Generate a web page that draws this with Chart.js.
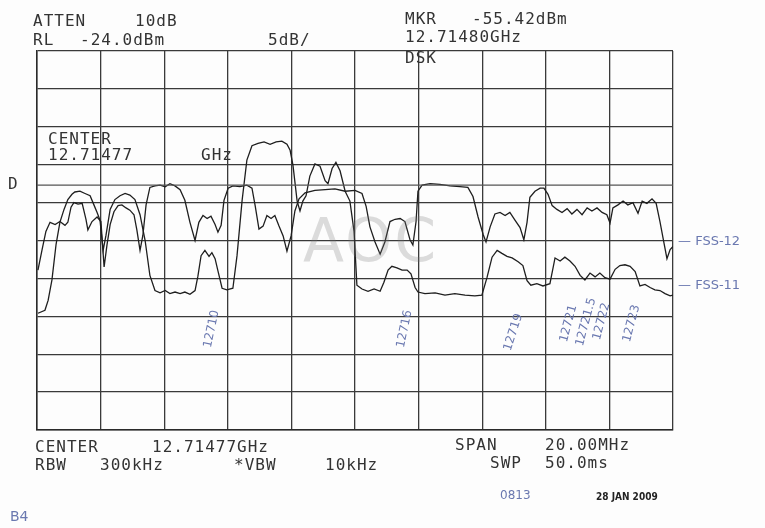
<!DOCTYPE html>
<html>
<head>
<meta charset="utf-8">
<script src="https://cdn.jsdelivr.net/npm/chart.js@4/dist/chart.umd.min.js"></script>
<style>
  html, body { margin:0; padding:0; background:#fff; }
  #wrap { position:relative; width:765px; height:528px; overflow:hidden; background:#fdfdfd; }
  canvas { position:absolute; left:0; top:0; }
  .t { position:absolute; font-family:"DejaVu Sans Mono", "Liberation Mono", monospace; font-size:16px; letter-spacing:1px; color:#333; white-space:pre; line-height:16px; }
  .h { position:absolute; font-family:"DejaVu Sans", sans-serif; font-size:12px; color:#6a78b0; white-space:pre; transform-origin:left top; }
  .wm { position:absolute; font-family:"DejaVu Sans", sans-serif; font-size:60px; color:rgba(120,120,120,0.25); letter-spacing:2px; }
</style>
</head>
<body>
<div id="wrap">
  <canvas id="c" width="765" height="528"></canvas>
  <div class="wm" style="left:303px; top:205px;">AOC</div>

  <div class="t" style="left:33px; top:13px;">ATTEN</div>
  <div class="t" style="left:135px; top:13px;">10dB</div>
  <div class="t" style="left:33px; top:32px;">RL</div>
  <div class="t" style="left:80px; top:32px;">-24.0dBm</div>
  <div class="t" style="left:268px; top:32px;">5dB/</div>
  <div class="t" style="left:405px; top:11px;">MKR</div>
  <div class="t" style="left:472px; top:11px;">-55.42dBm</div>
  <div class="t" style="left:405px; top:29px;">12.71480GHz</div>
  <div class="t" style="left:405px; top:50px;">DSK</div>

  <div class="t" style="left:48px; top:131px;">CENTER</div>
  <div class="t" style="left:48px; top:147px;">12.71477</div>
  <div class="t" style="left:201px; top:147px;">GHz</div>
  <div class="t" style="left:8px; top:176px;">D</div>

  <div class="t" style="left:35px; top:439px;">CENTER</div>
  <div class="t" style="left:152px; top:439px;">12.71477GHz</div>
  <div class="t" style="left:455px; top:437px;">SPAN</div>
  <div class="t" style="left:545px; top:437px;">20.00MHz</div>
  <div class="t" style="left:35px; top:457px;">RBW</div>
  <div class="t" style="left:100px; top:457px;">300kHz</div>
  <div class="t" style="left:234px; top:457px;">*VBW</div>
  <div class="t" style="left:325px; top:457px;">10kHz</div>
  <div class="t" style="left:490px; top:455px;">SWP</div>
  <div class="t" style="left:545px; top:455px;">50.0ms</div>

  <div class="h" style="left:500px; top:488px; font-size:12px;">0813</div>
  <div class="t" style="left:596px; top:489px; font-family:'DejaVu Sans Condensed','DejaVu Sans',sans-serif; font-weight:bold; font-size:10px; letter-spacing:0; color:#222;">28 JAN 2009</div>
  <div class="h" style="left:10px; top:508px; font-size:14px;">B4</div>

  <div class="h" style="left:678px; top:233px; font-size:13px;">— FSS-12</div>
  <div class="h" style="left:678px; top:277px; font-size:13px;">— FSS-11</div>

  <div class="h" style="left:200px; top:346px; transform:rotate(-78deg);">12710</div>
  <div class="h" style="left:393px; top:346px; transform:rotate(-78deg);">12716</div>
  <div class="h" style="left:500px; top:348px; transform:rotate(-72deg);">12719</div>
  <div class="h" style="left:556px; top:340px; transform:rotate(-75deg);">12721</div>
  <div class="h" style="left:572px; top:344px; transform:rotate(-75deg);">12721.5</div>
  <div class="h" style="left:589px; top:338px; transform:rotate(-75deg);">12722</div>
  <div class="h" style="left:619px; top:340px; transform:rotate(-75deg);">12723</div>
</div>
<script>
// Frequency offset from centre 12.71477 GHz, in MHz (span 20 MHz)
const fss12Freq = [-9.97,-9.84,-9.72,-9.59,-9.43,-9.28,-9.12,-9.03,-8.93,-8.84,-8.71,-8.58,-8.46,-8.40,-8.27,-8.11,-7.99,-7.89,-7.80,-7.70,-7.58,-7.45,-7.33,-7.20,-7.08,-6.95,-6.86,-6.76,-6.67,-6.57,-6.45,-6.29,-6.13,-5.97,-5.82,-5.66,-5.50,-5.35,-5.19,-5.03,-4.91,-4.78,-4.65,-4.53,-4.40,-4.31,-4.21,-4.12,-3.99,-3.84,-3.62,-3.40,-3.24,-3.14,-3.02,-2.89,-2.77,-2.64,-2.52,-2.39,-2.26,-2.14,-2.01,-1.89,-1.76,-1.57,-1.26,-0.94,-0.63,-0.31,0.00,0.22,0.35,0.47,0.63,0.79,0.94,1.10,1.26,1.42,1.57,1.73,1.82,1.92,1.98,2.11,2.36,2.67,2.99,3.30,3.55,3.71,3.87,4.03,4.12,4.25,4.40,4.56,4.72,4.87,5.03,5.19,5.31,5.41,5.50,5.66,5.82,5.94,6.07,6.20,6.35,6.51,6.67,6.82,6.98,7.14,7.30,7.45,7.61,7.77,7.92,8.02,8.11,8.27,8.43,8.58,8.74,8.90,9.03,9.18,9.34,9.47,9.59,9.72,9.81,9.91,10.00];
const fss12Level = [-52.9,-50.2,-47.8,-46.6,-46.9,-46.5,-47.0,-46.6,-44.6,-44.0,-44.2,-44.1,-46.2,-47.6,-46.5,-45.9,-46.5,-52.5,-49.6,-46.9,-45.2,-44.4,-44.3,-44.7,-45.0,-45.6,-47.6,-50.3,-48.3,-44.3,-42.0,-41.8,-41.7,-41.9,-41.5,-41.8,-42.3,-43.7,-46.6,-49.0,-46.6,-45.7,-46.1,-45.8,-46.9,-47.9,-47.0,-43.7,-42.1,-41.8,-41.9,-41.7,-42.1,-44.4,-47.5,-47.1,-45.7,-46.1,-45.7,-47.1,-48.4,-50.4,-48.4,-45.1,-43.5,-42.7,-42.4,-42.3,-42.2,-42.5,-42.4,-42.8,-44.5,-47.2,-49.2,-50.8,-49.2,-46.5,-46.2,-46.1,-46.5,-48.9,-49.6,-46.5,-42.5,-41.7,-41.5,-41.6,-41.8,-41.9,-42.0,-43.2,-45.9,-48.2,-49.2,-47.2,-45.5,-45.3,-45.7,-45.3,-46.3,-47.3,-48.9,-46.6,-43.3,-42.5,-42.1,-42.1,-42.9,-44.4,-44.9,-45.3,-44.8,-45.5,-44.9,-45.6,-44.7,-45.1,-44.7,-45.3,-45.6,-46.7,-44.7,-44.3,-43.8,-44.3,-44.0,-45.4,-43.8,-44.1,-43.5,-44.1,-46.5,-49.4,-51.4,-50.2,-49.8];

const fss11Freq = [-9.97,-9.75,-9.65,-9.53,-9.40,-9.28,-9.15,-9.03,-8.90,-8.81,-8.65,-8.49,-8.33,-8.21,-8.11,-8.02,-7.92,-7.83,-7.70,-7.55,-7.39,-7.23,-7.08,-6.92,-6.76,-6.60,-6.45,-6.29,-6.13,-5.97,-5.82,-5.66,-5.50,-5.35,-5.19,-5.03,-4.94,-4.84,-4.72,-4.59,-4.50,-4.40,-4.31,-4.18,-4.03,-3.84,-3.71,-3.55,-3.40,-3.24,-3.05,-2.86,-2.67,-2.48,-2.30,-2.14,-2.04,-1.95,-1.82,-1.73,-1.64,-1.54,-1.42,-1.26,-1.10,-0.94,-0.85,-0.72,-0.60,-0.47,-0.31,-0.16,-0.03,0.06,0.22,0.41,0.60,0.79,0.91,1.04,1.16,1.32,1.48,1.64,1.76,1.89,1.98,2.20,2.52,2.83,3.14,3.46,3.77,3.99,4.15,4.31,4.47,4.62,4.78,4.94,5.13,5.28,5.41,5.53,5.72,5.91,6.13,6.29,6.45,6.60,6.76,6.92,7.08,7.23,7.39,7.55,7.70,7.86,8.02,8.18,8.33,8.49,8.65,8.81,8.96,9.12,9.28,9.43,9.59,9.75,9.91,10.00];
const fss11Level = [-58.6,-58.2,-56.9,-54.2,-49.5,-46.6,-44.9,-43.6,-42.9,-42.6,-42.5,-42.8,-43.1,-44.3,-45.3,-46.3,-50.3,-48.3,-44.9,-43.6,-43.1,-42.8,-43.0,-43.6,-45.6,-49.0,-53.6,-55.6,-55.9,-55.6,-56.0,-55.8,-56.0,-55.8,-56.1,-55.6,-53.7,-51.0,-50.3,-51.1,-50.6,-51.4,-53.0,-55.3,-55.5,-55.3,-51.0,-43.7,-38.4,-36.5,-36.2,-36.0,-36.3,-36.0,-35.9,-36.3,-37.1,-39.1,-43.8,-45.1,-43.8,-43.1,-40.5,-38.9,-39.2,-41.1,-41.5,-39.5,-38.7,-39.8,-42.5,-43.8,-47.8,-54.9,-55.4,-55.7,-55.4,-55.7,-54.5,-52.9,-52.4,-52.6,-52.9,-52.9,-53.4,-55.2,-55.8,-56.0,-55.9,-56.2,-56.0,-56.2,-56.3,-56.2,-53.9,-51.2,-50.3,-50.7,-51.1,-51.3,-51.8,-52.3,-54.3,-54.9,-54.7,-55.0,-54.7,-51.3,-51.7,-51.2,-51.7,-52.4,-53.6,-54.2,-53.3,-53.8,-53.3,-53.9,-54.1,-52.8,-52.3,-52.2,-52.4,-53.1,-55.0,-54.8,-55.2,-55.5,-55.6,-56.0,-56.3,-56.2];

const refLevel = -24;      // dBm, top of screen
const dbPerDiv = 5;
const divisions = 10;
const spanMHz = 20;
const displayLine = -41.7; // dBm, "D" line

const toPts = (xs, ys) => xs.map((x, i) => ({ x, y: ys[i] }));

new Chart(document.getElementById('c'), {
  type: 'line',
  data: {
    datasets: [
      { label: 'D', data: [{x:-spanMHz/2, y:displayLine},{x:spanMHz/2, y:displayLine}], borderColor:'#555', borderWidth:1.2, pointRadius:0 },
      { label: 'FSS-12', data: toPts(fss12Freq, fss12Level), borderColor:'#1e1e1e', borderWidth:1.3, pointRadius:0, tension:0 },
      { label: 'FSS-11', data: toPts(fss11Freq, fss11Level), borderColor:'#1e1e1e', borderWidth:1.3, pointRadius:0, tension:0 }
    ]
  },
  options: {
    responsive: false,
    animation: false,
    devicePixelRatio: 1,
    layout: { padding: { left: 37, top: 51, right: 92, bottom: 98 } },
    plugins: { legend: { display: false }, tooltip: { enabled: false } },
    scales: {
      x: {
        type: 'linear', min: -spanMHz/2, max: spanMHz/2,
        ticks: { display: false, stepSize: spanMHz/divisions },
        grid: { color: '#3a3a3a', lineWidth: 1.3, drawTicks: false },
        border: { display: true, color: '#2a2a2a', width: 1.5 }
      },
      y: {
        type: 'linear', min: refLevel - dbPerDiv*divisions, max: refLevel,
        ticks: { display: false, stepSize: dbPerDiv },
        grid: { color: '#3a3a3a', lineWidth: 1.3, drawTicks: false },
        border: { display: true, color: '#2a2a2a', width: 1.5 }
      }
    }
  }
});
</script>
</body>
</html>
